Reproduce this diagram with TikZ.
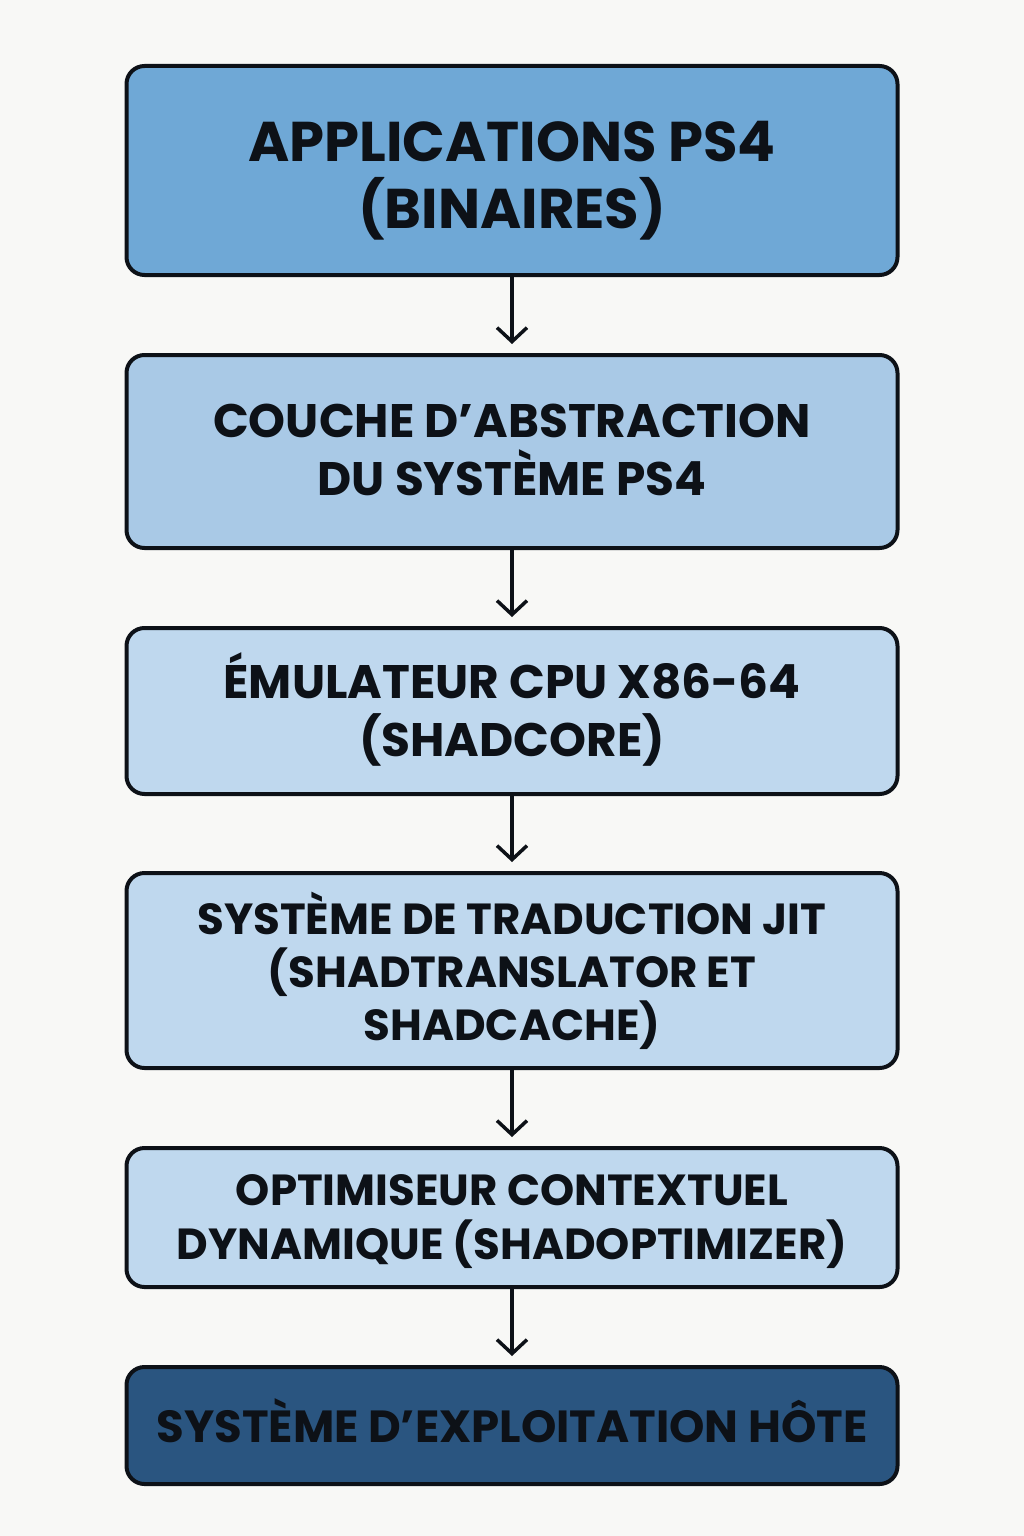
\documentclass[tikz,border=0pt]{standalone}
\usepackage{fontspec}
\setmainfont{Poppins}[UprightFont=* SemiBold, BoldFont=* Bold]
\usetikzlibrary{arrows.meta}
\definecolor{bg}{HTML}{F8F8F6}
\definecolor{cA}{HTML}{6FA8D6}
\definecolor{cB}{HTML}{A9C9E6}
\definecolor{cC}{HTML}{BFD8EE}
\definecolor{cD}{HTML}{2A5580}
\definecolor{ink}{HTML}{0D1117}
\begin{document}
\begin{tikzpicture}[x=1pt,y=-1pt,
  layer/.style={draw=ink, line width=4pt, rounded corners=18pt, minimum width=771pt, inner sep=0pt},
  txt/.style={align=center, text=ink, inner sep=0pt},
  flow/.style={draw=ink, line width=3.5pt, shorten >=9pt, -{Straight Barb[length=14pt,width=30pt,line width=3.5pt]}}]
\fill[bg] (0,0) rectangle (1024,1536);
\useasboundingbox (0,0) rectangle (1024,1536);
\node[layer, fill=cA, minimum height=209pt] (a) at (512,170.5) {};
\node[layer, fill=cB, minimum height=193pt] (b) at (512,451.5) {};
\node[layer, fill=cC, minimum height=166pt] (c) at (512,711) {};
\node[layer, fill=cC, minimum height=195pt] (d) at (512,970.5) {};
\node[layer, fill=cC, minimum height=139pt] (e) at (512,1217.5) {};
\node[layer, fill=cD, minimum height=117pt] (f) at (512,1425.5) {};
\node[txt, font=\fontsize{56}{67}\selectfont\bfseries] (at) at (512,180.5) {APPLICATIONS PS4\\(BINAIRES)};
\node[txt, font=\fontsize{47}{58}\selectfont\bfseries] (bt) at (512,449.5) {COUCHE D’ABSTRACTION\\DU SYSTÈME PS4};
\node[txt, font=\fontsize{47}{58}\selectfont\bfseries] (ct) at (512,709) {ÉMULATEUR CPU X86-64\\(SHADCORE)};
\node[txt, font=\fontsize{43.5}{53}\selectfont\bfseries] (dt) at (512,971) {SYSTÈME DE TRADUCTION JIT\\(SHADTRANSLATOR ET\\SHADCACHE)};
\node[txt, font=\fontsize{43.5}{54}\selectfont\bfseries] (et) at (512,1222) {OPTIMISEUR CONTEXTUEL\\DYNAMIQUE (SHADOPTIMIZER)};
\node[txt, font=\fontsize{45}{54}\selectfont\bfseries] (ft) at (512,1420.5) {SYSTÈME D’EXPLOITATION HÔTE};
\draw[flow] (a.south) -- (b.north);
\draw[flow] (b.south) -- (c.north);
\draw[flow] (c.south) -- (d.north);
\draw[flow] (d.south) -- (e.north);
\draw[flow] (e.south) -- (f.north);
\end{tikzpicture}
\end{document}
